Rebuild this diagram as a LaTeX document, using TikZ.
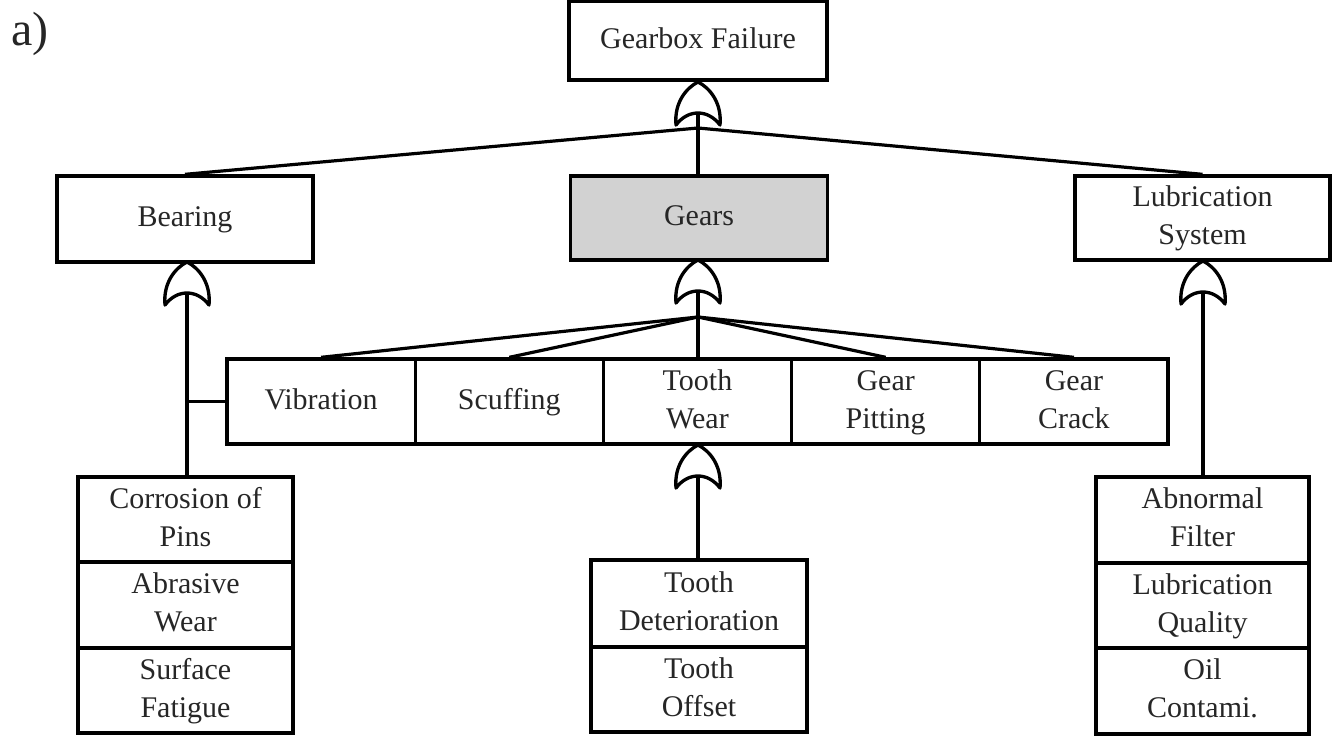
\documentclass[tikz,border=0pt]{standalone}
\usepackage{fontspec}
\setmainfont{Liberation Serif}
\begin{document}
\begin{tikzpicture}[x=0.75pt,y=-0.75pt,
  box/.style 2 args={draw=black, line width=2.5pt, minimum width=#1*0.75pt, minimum height=#2*0.75pt,
    inner sep=0pt, align=center, text=black!85, font=\fontsize{22.5}{28.5}\selectfont},
  wire/.style={line width=2.4pt, line cap=butt},
  orgate/.pic={
    \draw[line width=2.5pt, line join=round] (-22,0) .. controls (-24,-22) and (-12,-37) .. (0,-43)
      .. controls (12,-37) and (24,-22) .. (22,0)
      .. controls (10,-16) and (-10,-16) .. (-22,0) -- cycle;
  }]
\useasboundingbox (0,0) rectangle (1342,742);

% label
\node[anchor=base west, inner sep=0pt, text=black!85, font=\fontsize{36}{40}\selectfont] (lbl) at (11,46) {a)};

% top level
\node[box={258}{79}] (gf) at (698,40.5) {\strut Gearbox Failure};
\node[box={256}{86}] (bearing) at (185,219) {\strut Bearing};
\node[box={257}{84}, fill=gray!35] (gears) at (699,218) {\strut Gears};
\node[box={255}{84}] (lub) at (1202.5,218) {\strut Lubrication\\\strut System};

% gears row
\node[box={188.2}{85}] (vib) at (321.1,401.5) {\strut Vibration};
\node[box={188.2}{85}] (scuff) at (509.3,401.5) {\strut Scuffing};
\node[box={188.2}{85}] (tw) at (697.5,401.5) {\strut Tooth\\\strut Wear};
\node[box={188.2}{85}] (gp) at (885.7,401.5) {\strut Gear\\\strut Pitting};
\node[box={188.2}{85}] (gc) at (1073.9,401.5) {\strut Gear\\\strut Crack};

% left column
\node[box={215}{85}] (corr) at (185.5,519.5) {\strut Corrosion of\\\strut Pins};
\node[box={215}{86}] (abr) at (185.5,605) {\strut Abrasive\\\strut Wear};
\node[box={215}{85}] (surf) at (185.5,690.5) {\strut Surface\\\strut Fatigue};

% middle column
\node[box={216}{87}] (td) at (699,603.5) {\strut Tooth\\\strut Deterioration};
\node[box={216}{85}] (to) at (699,689.5) {\strut Tooth\\\strut Offset};

% right column
\node[box={213}{86}] (af) at (1202.5,520) {\strut Abnormal\\\strut Filter};
\node[box={213}{85}] (lq) at (1202.5,605.5) {\strut Lubrication\\\strut Quality};
\node[box={213}{86}] (oc) at (1202.5,691) {\strut Oil\\\strut Contami.};

% gates
\coordinate (g0) at (698,125);
\coordinate (g0in) at (698,113);
\coordinate (h0) at (698,128);
\coordinate (g1) at (698,303);
\coordinate (g1in) at (698,291);
\coordinate (h1) at (698,317);
\coordinate (g2) at (187,305);
\coordinate (g2in) at (187,293);
\coordinate (g3) at (1203,304);
\coordinate (g3in) at (1203,292);
\coordinate (g4) at (698,488);
\coordinate (g4in) at (698,476);

\pic at (g0) {orgate};
\pic at (g1) {orgate};
\pic at (g2) {orgate};
\pic at (g3) {orgate};
\pic at (g4) {orgate};

% connectors
\draw[wire] (g0in) -- (g0in |- gears.north);
\draw[wire] (h0) -- (bearing.north);
\draw[wire] (h0) -- (lub.north);

\draw[wire] (g1in) -- (g1in |- tw.north);
\draw[wire] (h1) -- (vib.north);
\draw[wire] (h1) -- (scuff.north);
\draw[wire] (h1) -- (gp.north);
\draw[wire] (h1) -- (gc.north);

\draw[wire] (g2in) -- (g2in |- corr.north);
\draw[wire] (g2in |- vib.west) -- (vib.west);

\draw[wire] (g3in) -- (g3in |- af.north);
\draw[wire] (g4in) -- (g4in |- td.north);
\end{tikzpicture}
\end{document}
